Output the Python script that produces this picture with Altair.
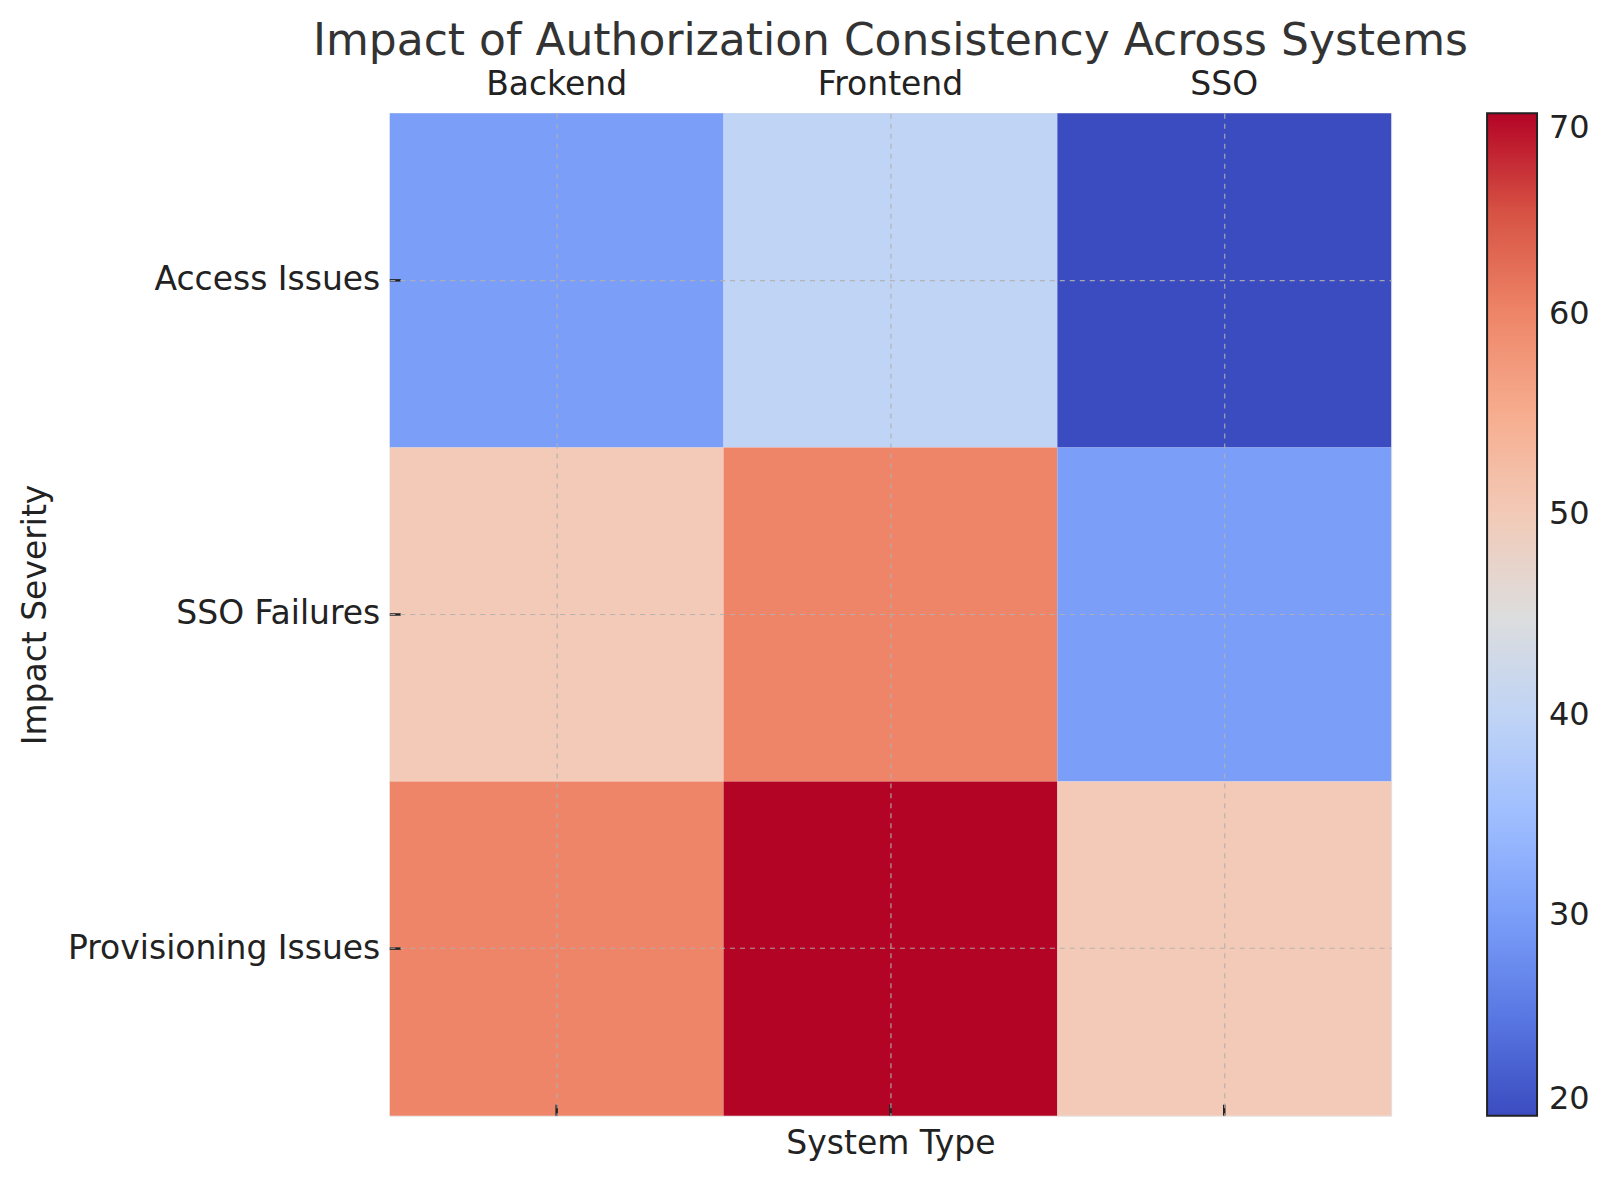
import altair as alt
import pandas as pd

systems = ["Backend", "Frontend", "SSO"]
issues = ["Access Issues", "SSO Failures", "Provisioning Issues"]
access_vals = [30, 40, 20]
sso_fail_vals = [50, 60, 30]
prov_vals = [60, 70, 50]
cbar_ticks = [20, 30, 40, 50, 60, 70]

rows = []
for issue, vals in zip(issues, [access_vals, sso_fail_vals, prov_vals]):
    for s, v in zip(systems, vals):
        rows.append({"System": s, "Issue": issue, "Value": v})
df = pd.DataFrame(rows)
sys_df = pd.DataFrame({"System": systems})
iss_df = pd.DataFrame({"Issue": issues})

# matplotlib "coolwarm" colormap stops
cw = [
    (59, 76, 192), (68, 90, 204), (77, 104, 215), (87, 117, 225), (98, 130, 234),
    (108, 142, 241), (119, 154, 247), (130, 165, 251), (141, 176, 254), (152, 185, 255),
    (163, 194, 255), (174, 201, 253), (184, 208, 249), (194, 213, 244), (204, 217, 238),
    (213, 219, 230), (221, 221, 221), (229, 216, 209), (236, 211, 197), (241, 204, 185),
    (245, 196, 173), (247, 187, 160), (247, 177, 148), (247, 166, 135), (244, 154, 123),
    (241, 141, 111), (236, 127, 99), (229, 112, 88), (222, 96, 77), (213, 80, 66),
    (203, 62, 56), (192, 40, 47), (180, 4, 38),
]
cw_hex = ["#%02x%02x%02x" % c for c in cw]
vmin, vmax = 20, 70
cw_domain = [vmin + (vmax - vmin) * i / (len(cw) - 1) for i in range(len(cw))]

W, H = 1002, 1003
FONT = "DejaVu Sans"
TXT = "#222222"
grid_kw = dict(grid=True, gridDash=[5, 5], gridColor="#b0b0b0", gridWidth=1.2, gridOpacity=0.9)
band_scale = alt.Scale(paddingInner=0, paddingOuter=0)

heat = alt.Chart(df).mark_rect().encode(
    x=alt.X(
        "System:N", sort=systems, scale=band_scale,
        axis=alt.Axis(orient="top", title=None, labelFontSize=33, labelFont=FONT,
                      labelColor=TXT, ticks=False, domain=False, labelAngle=0,
                      labelPadding=12, bandPosition=0.5, zindex=1, **grid_kw),
    ),
    y=alt.Y(
        "Issue:N", sort=issues, scale=band_scale,
        axis=alt.Axis(title="Impact Severity", titleFontSize=33, titleFont=FONT,
                      titleFontWeight="normal", titleColor=TXT,
                      titleX=-354, titleY=H / 2, titleBaseline="middle", titleAlign="center",
                      titleAngle=270,
                      labelFontSize=33, labelFont=FONT, labelColor=TXT, labelLimit=0,
                      ticks=False, labelPadding=10, domain=False, bandPosition=0.5,
                      zindex=1, **grid_kw),
    ),
    color=alt.Color(
        "Value:Q",
        scale=alt.Scale(domain=cw_domain, range=cw_hex, interpolate="rgb"),
        legend=alt.Legend(
            orient="none", legendX=W + 96, legendY=0, direction="vertical",
            title=None, values=cbar_ticks, gradientLength=H, gradientThickness=50,
            gradientStrokeColor=TXT, gradientStrokeWidth=2,
            labelFontSize=32, labelFont=FONT, labelColor=TXT,
            labelOffset=12, labelBaseline="middle", padding=0,
        ),
    ),
)

# inward tick marks on the bottom spine
xticks = alt.Chart(sys_df).mark_rule(color=TXT, strokeWidth=2.5).encode(
    x=alt.X("System:N", sort=systems, scale=band_scale,
            axis=alt.Axis(orient="bottom", title="System Type", titleFontSize=33,
                          titleFont=FONT, titleFontWeight="normal", titleColor=TXT,
                          titlePadding=12, labels=False, ticks=False, domain=False,
                          grid=False)),
    y=alt.value(H - 11),
    y2=alt.value(H),
)

# inward tick marks on the left spine
yticks = alt.Chart(iss_df).mark_rule(color=TXT, strokeWidth=2.5).encode(
    y=alt.Y("Issue:N", sort=issues, scale=band_scale),
    x=alt.value(0),
    x2=alt.value(11),
)

chart = (
    alt.layer(heat, xticks, yticks)
    .resolve_axis(x="independent")
    .properties(
        width=W, height=H,
        title=alt.TitleParams("Impact of Authorization Consistency Across Systems",
                              fontSize=44, font=FONT, fontWeight="normal", color="#333333",
                              anchor="middle", offset=4),
        autosize=alt.AutoSizeParams(type="none"),
        padding={"left": 382, "top": 105, "right": 210, "bottom": 50},
    )
    .configure_view(stroke=TXT, strokeWidth=2)
    .configure(font=FONT)
)

chart.save("out.html", embed_options={"renderer": "svg", "actions": False})
